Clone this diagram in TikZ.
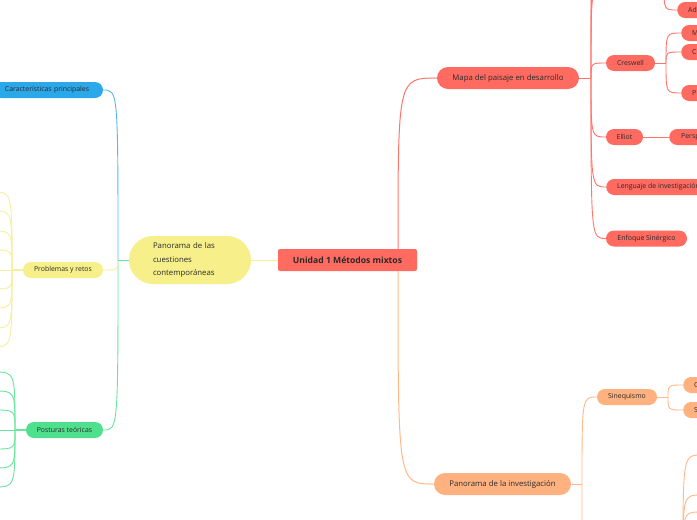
\documentclass[tikz,border=0pt]{standalone}
\usepackage{fontspec}
\setmainfont{Open Sans}
\definecolor{redc}{HTML}{FF6B61}
\definecolor{redl}{HTML}{FF756B}
\definecolor{orc}{HTML}{FFB27F}
\definecolor{orl}{HTML}{FFB889}
\definecolor{yec}{HTML}{F6EF8A}
\definecolor{yel}{HTML}{F7F09A}
\definecolor{blc}{HTML}{2AA8E9}
\definecolor{grc}{HTML}{4EE08D}
\definecolor{txt}{HTML}{2A2A2A}
\begin{document}
\begin{tikzpicture}[x=1pt,y=-1pt,
  base/.style={inner sep=0pt, text=txt, font=\fontsize{6.9}{8}\selectfont, minimum height=16pt, rounded corners=8pt},
  hand/.style={font=\fontsize{7.8}{13.5}\selectfont},
  redn/.style={base, fill=redc},
  orn/.style={base, fill=orc},
  yen/.style={base, fill=yec},
  bln/.style={base, fill=blc},
  grn/.style={base, fill=grc},
  cut/.style={anchor=west, minimum width=40pt, text width=20pt, inner xsep=11pt, align=left},
  rl/.style={draw=redl, line width=0.9pt},
  ol/.style={draw=orl, line width=0.9pt},
  yl/.style={draw=yel, line width=0.9pt},
  bl/.style={draw=blc!80, line width=0.9pt},
  gl/.style={draw=grc!85, line width=0.9pt}
]
\useasboundingbox (0,0) rectangle (697,520);
\fill[white] (0,0) rectangle (697,520);
\clip (0,0) rectangle (697,520);

% ---------- nodes ----------
\node[redn, minimum width=139pt, minimum height=22pt, rounded corners=2pt,
      font=\bfseries\fontsize{8.6}{10}\selectfont] (central) at (347.5,260) {Unidad 1 Métodos mixtos};
\node[yen, hand, minimum width=122pt, minimum height=48pt, rounded corners=24pt,
      text width=74pt, inner xsep=24pt, align=left] (panc) at (190,260)
      {Panorama de las\\cuestiones\\contemporáneas};
\node[bln, minimum width=110pt, text width=86pt, inner xsep=12pt, align=left] (carac) at (48,90) {Características principales};
\node[yen, minimum width=80pt] (prob) at (63,270) {Problemas y retos};
\node[grn, minimum width=77pt] (post) at (64.5,430) {Posturas teóricas};

\node[redn, hand, minimum width=142pt, minimum height=22pt, rounded corners=11pt] (mapa) at (508,78) {Mapa del paisaje en desarrollo};
\node[redn, minimum width=49pt] (cres) at (630.5,63) {Creswell};
\node[redn, minimum width=37pt] (elliot) at (624.5,137) {Elliot};
\node[redn, anchor=west, inner xsep=11pt] (leng) at (606,187) {Lenguaje de investigación};
\node[redn, minimum width=81pt] (enf) at (646.5,238.5) {Enfoque Sinérgico};
\node[redn, cut] (ad) at (677,10) {Ad};
\node[redn, cut] (cm) at (681,33) {M};
\node[redn, cut] (cc) at (681,52) {C};
\node[redn, cut] (cp) at (681,93) {P};
\node[redn, cut, inner xsep=12pt] (persp) at (669,137) {Persp};

\node[orn, hand, minimum width=137pt, minimum height=22pt, rounded corners=11pt] (pinv) at (502.5,484) {Panorama de la investigación};
\node[orn, minimum width=60pt] (sineq) at (627,397) {Sinequismo};
\node[orn, cut] (sc) at (683,385) {C};
\node[orn, cut] (ss) at (683,410) {S};

% ---------- junctions / free ends ----------
\coordinate (ctop) at (398,249);
\coordinate (cbot) at (398,271);
\coordinate (lj) at (118,260);
\coordinate (pj) at (12,270);
\coordinate (gj) at (15,430);
\coordinate (mj) at (591,78);
\coordinate (cj) at (666,63);
\coordinate (sj) at (668,397);
\coordinate (ij) at (582,484);
\coordinate (adp) at (664,-15);
\coordinate (t1) at (606,-15);
\coordinate (t2) at (606,-45);
\coordinate (t3) at (606,-80);
\coordinate (pdown) at (597,600);
\coordinate (bj) at (683,560);

% ---------- connectors ----------
\draw[yl] (central.west) -- (panc.east);
\draw[rl, line width=1pt] (ctop) .. controls (ctop |- mapa.west) .. (mapa.west);
\draw[ol, line width=1pt] (cbot) .. controls (cbot |- pinv.west) .. (pinv.west);

% left side
\draw[bl] (lj) .. controls (lj |- carac.east) and (lj |- carac.east) .. (carac.east);
\draw[gl] (lj) .. controls (lj |- post.east) and (lj |- post.east) .. (post.east);
\draw[yl] (lj) .. controls (lj |- prob.east) and (lj |- prob.east) .. (prob.east);
\draw[gl] (panc.west) -- (lj);

\draw[yl, line width=1.3pt] (prob.west) -- (pj);
\coordinate (ph) at (-6,270);
\draw[yl] (pj) -- (ph);
\foreach \yy [count=\i] in {192,211,231,250,289,308,328,347}{
  \coordinate (pc\i) at (-6,\yy);
  \draw[yl] (pj) .. controls (pj |- pc\i) and (pj |- pc\i) .. (pc\i);
}
\draw[gl, line width=1.3pt] (post.west) -- (gj);
\coordinate (gh) at (-6,430);
\draw[gl] (gj) -- (gh);
\foreach \yy [count=\i] in {372,391,410,449,468,487}{
  \coordinate (gc\i) at (-6,\yy);
  \draw[gl] (gj) .. controls (gj |- gc\i) and (gj |- gc\i) .. (gc\i);
}

% right top
\draw[rl] (mapa.east) -- (mj);
\foreach \t in {t1,t2,t3}{
  \draw[rl] (mj) .. controls (mj |- \t) and (mj |- \t) .. (\t);
}
\foreach \c in {cres,elliot,leng,enf}{
  \draw[rl] (mj) .. controls (mj |- \c.west) and (mj |- \c.west) .. (\c.west);
}
\draw[rl] (cres.east) -- (cj);
\foreach \c in {cm,cc,cp}{
  \draw[rl] (cj) .. controls (cj |- \c.west) and (cj |- \c.west) .. (\c.west);
}
\draw[rl] (adp) .. controls (adp |- ad.west) and (adp |- ad.west) .. (ad.west);
\draw[rl] (elliot.east) -- (persp.west);

% right bottom
\draw[ol] (pinv.east) -- (ij);
\draw[ol] (ij) .. controls (ij |- sineq.west) and (ij |- sineq.west) .. (sineq.west);
\draw[ol] (ij) .. controls (ij |- pdown) and (ij |- pdown) .. (pdown);
\draw[ol] (sineq.east) -- (sj);
\foreach \c in {sc,ss}{
  \draw[ol] (sj) .. controls (sj |- \c.west) and (sj |- \c.west) .. (\c.west);
}
\foreach \yy [count=\i] in {455,495,512,530}{
  \coordinate (bc\i) at (702,\yy);
  \draw[ol] (bj) .. controls (bj |- bc\i) and (bj |- bc\i) .. (bc\i);
}
\end{tikzpicture}
\end{document}
